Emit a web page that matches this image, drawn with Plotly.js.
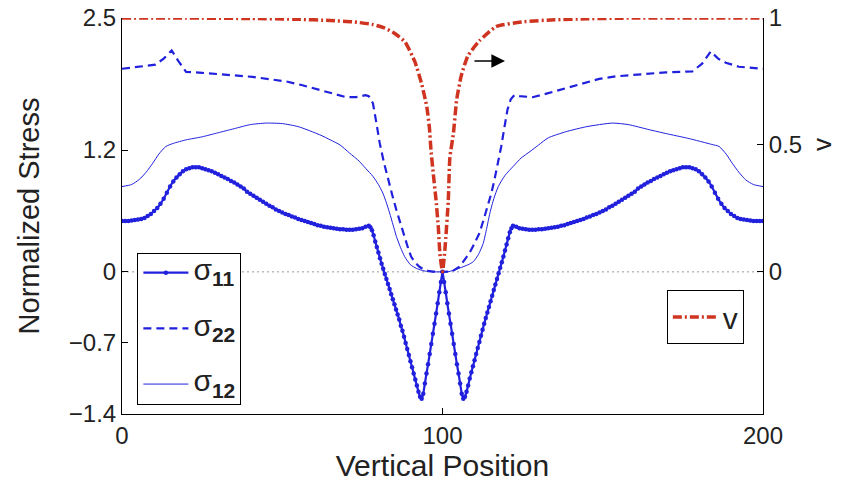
<!DOCTYPE html>
<html>
<head>
<meta charset="utf-8">
<script src="https://cdn.plot.ly/plotly-3.0.1.min.js"></script>
<style>html,body{margin:0;padding:0;background:#fff;}#chart{width:850px;height:494px;}</style>
</head>
<body>
<div id="chart"></div>
<script>
// ---- data ----
var xS11 = [0,1,2,3,4,5,6,7,8,9,10,11,12,13,14,15,16,17,18,19,20,21,22,23,24,25,26,27,28,29,30,31,32,33,34,35,36,37,38,39,40,41,42,43,44,45,46,47,48,49,50,51,52,53,54,55,56,57,58,59,60,61,62,63,64,65,66,67,68,69,70,71,72,73,74,75,76,77,
  77.5,78,78.5,79,79.5,80,80.5,81,81.5,82,82.5,83,83.5,84,84.5,85,85.5,86,86.5,87,87.5,88,88.5,89,89.5,90,90.5,91,91.5,92,92.5,93,93.5,94,94.5,95,95.5,96,96.5,97,97.5,98,98.5,99,99.5,100,
  100.5,101,101.5,102,102.5,103,103.5,104,104.5,105,105.5,106,106.5,107,107.5,108,108.5,109,109.5,110,110.5,111,111.5,112,112.5,113,113.5,114,114.5,115,115.5,116,116.5,117,117.5,118,118.5,119,119.5,120,120.5,121,121.5,122,
  123,124,125,126,127,128,129,130,131,132,133,134,135,136,137,138,139,140,141,142,143,144,145,146,147,148,149,150,151,152,153,154,155,156,157,158,159,160,161,162,163,164,165,166,167,168,169,170,171,172,173,174,175,176,177,178,179,180,181,182,183,184,185,186,187,188,189,190,191,192,193,194,195,196,197,198,199,200];
var sigma11 = [0.50,0.50,0.50,0.505,0.51,0.515,0.52,0.53,0.55,0.57,0.60,0.63,0.67,0.72,0.78,0.84,0.89,0.93,0.96,0.99,1.01,1.02,1.03,1.03,1.03,1.02,1.01,1.00,0.99,0.975,0.96,0.945,0.93,0.915,0.895,0.88,0.86,0.84,0.82,0.79,0.77,0.75,0.73,0.71,0.69,0.67,0.65,0.635,0.615,0.60,0.585,0.57,0.56,0.545,0.535,0.52,0.51,0.50,0.49,0.48,0.47,0.46,0.455,0.445,0.44,0.435,0.43,0.425,0.42,0.42,0.415,0.415,0.415,0.42,0.425,0.43,0.445,0.455,
  0.44,0.41,0.36,0.30,0.245,0.19,0.135,0.08,0.03,-0.02,-0.07,-0.12,-0.17,-0.22,-0.27,-0.32,-0.37,-0.42,-0.47,-0.53,-0.58,-0.64,-0.70,-0.76,-0.82,-0.88,-0.94,-1.00,-1.06,-1.12,-1.18,-1.23,-1.25,-1.20,-1.10,-1.00,-0.91,-0.81,-0.71,-0.61,-0.51,-0.41,-0.31,-0.20,-0.10,0,
  -0.10,-0.20,-0.31,-0.41,-0.51,-0.61,-0.71,-0.81,-0.91,-1.00,-1.10,-1.20,-1.25,-1.23,-1.18,-1.12,-1.05,-0.99,-0.93,-0.87,-0.81,-0.75,-0.69,-0.63,-0.57,-0.51,-0.455,-0.40,-0.345,-0.29,-0.235,-0.18,-0.125,-0.07,-0.015,0.04,0.095,0.15,0.21,0.27,0.33,0.39,0.43,0.455,
  0.445,0.43,0.425,0.42,0.415,0.415,0.415,0.42,0.42,0.425,0.43,0.435,0.44,0.445,0.455,0.46,0.47,0.48,0.49,0.50,0.51,0.52,0.535,0.545,0.56,0.57,0.585,0.60,0.615,0.635,0.65,0.67,0.69,0.71,0.73,0.75,0.77,0.79,0.82,0.84,0.86,0.88,0.895,0.915,0.93,0.945,0.96,0.975,0.99,1.00,1.01,1.02,1.03,1.03,1.03,1.02,1.01,0.99,0.96,0.93,0.89,0.84,0.78,0.72,0.67,0.63,0.60,0.57,0.55,0.53,0.52,0.515,0.51,0.505,0.50,0.50,0.50,0.50];

var xS22 = [0,5,10.4,13,15.5,17.5,20,25,30.5,35,40.8,46,51.3,56,61.7,66,70,73,76,77,78.3,79.3,80.4,81.7,83,84.3,85.6,86.9,88.2,89.2,90.2,91.5,92.8,94,95.5,97,100,103,105.3,107,108.4,110,111.5,112.8,114.1,115.2,116.2,117.3,118.3,119.3,120.3,121.3,122.4,124,128.1,133,138.5,144,148.9,154,159.3,164,169.7,175,178,181,183.7,186,188.4,192.5,196,200];
var sigma22 = [2.00,2.02,2.04,2.10,2.18,2.08,1.97,1.96,1.95,1.935,1.92,1.90,1.875,1.84,1.79,1.75,1.72,1.72,1.74,1.73,1.66,1.48,1.27,1.08,0.906,0.76,0.61,0.47,0.35,0.24,0.15,0.09,0.05,0.025,0.01,0.003,0,0.005,0.05,0.12,0.185,0.28,0.38,0.51,0.64,0.77,0.906,1.06,1.23,1.42,1.6,1.70,1.74,1.73,1.72,1.76,1.81,1.86,1.90,1.925,1.94,1.955,1.965,1.97,1.975,2.05,2.17,2.10,2.06,2.02,2.01,2.00];

var xS12 = [0,3,5.4,7.5,9.6,11.5,13.7,16,20,25,30,35,40,45,50,55,61.7,65,68,71,74,76,78.3,80,81.4,82.5,83.5,84.6,85.6,86.9,88.2,90,91.8,93.5,95,97,100,102,103.9,106,108,109.6,111.2,112.7,113.8,114.8,116,117.4,119.5,122.1,124.5,127.3,130,133,138.5,145,153,158,164.5,170,175.9,181,184,186.3,188.5,190.4,192.5,194.6,197,200];
var sigma12 = [0.84,0.86,0.91,0.98,1.07,1.16,1.235,1.265,1.30,1.33,1.37,1.41,1.45,1.465,1.46,1.43,1.35,1.30,1.25,1.17,1.09,1.02,0.94,0.86,0.775,0.68,0.58,0.46,0.35,0.24,0.15,0.07,0.035,0.015,0.005,0,0,0.003,0.02,0.045,0.07,0.10,0.17,0.28,0.43,0.58,0.72,0.84,0.95,1.04,1.12,1.185,1.25,1.32,1.38,1.43,1.465,1.45,1.40,1.36,1.32,1.28,1.255,1.235,1.16,1.07,0.98,0.906,0.86,0.84];

var xV = [0,20,40,55,65,72,78,82,85,88.3,91.4,93.5,95.1,95.9,96.4,97.1,98,98.7,99.2,100,100.8,101.8,102.3,103.4,104.4,105.8,107.9,111.5,116.7,125,135,145,160,180,200];
var vVals = [1.0,1.0,0.998,0.995,0.99,0.985,0.975,0.96,0.94,0.906,0.827,0.74,0.65,0.57,0.48,0.39,0.28,0.175,0.07,0,0.096,0.28,0.45,0.545,0.676,0.77,0.85,0.91,0.966,0.985,0.993,0.997,1.0,1.0,1.0];

var xZero = [0,200];
var yZero = [0,0];

var xTicks = [0,100,200];
var yTicksLeft = [-1.4,-0.7,0,1.2,2.5];
var yTicksRight = [0,0.5,1];

var labels = ['<span style="font-size:30px">σ<sub><b>11</b></sub></span>','<span style="font-size:30px">σ<sub><b>22</b></sub></span>','<span style="font-size:30px">σ<sub><b>12</b></sub></span>','v'];

// ---- styles ----
var BLUE = '#2020dd';
var RED = '#cf3420';
var TXT = '#222222';
var FONT = 'Liberation Sans, Arial, sans-serif';

var traces = [
  {x:xZero, y:yZero, mode:'lines', line:{color:'#9a9a9a', width:1, dash:'2px,3px'}, showlegend:false, hoverinfo:'skip'},
  {x:xS11, y:sigma11, name:labels[0], mode:'lines+markers', line:{color:BLUE, width:2.2, shape:'spline', smoothing:0.4}, marker:{color:BLUE, size:4.5}, legend:'legend', legendgroup:'a'},
  {x:xS22, y:sigma22, name:labels[1], mode:'lines', line:{color:BLUE, width:2.2, dash:'8px,5px'}, legend:'legend', legendgroup:'b'},
  {x:xS12, y:sigma12, name:labels[2], mode:'lines', line:{color:BLUE, width:1, shape:'spline', smoothing:0.6}, legend:'legend', legendgroup:'c'},
  {x:xV, y:vVals, name:labels[3], yaxis:'y2', mode:'lines', line:{color:RED, width:3.5, dash:'9px,3px,2px,3px', shape:'spline', smoothing:0.5}, legend:'legend2'}
];

var axisCommon = {showline:true, linecolor:'#000', linewidth:1, ticks:'inside', ticklen:6, tickcolor:'#000', showgrid:false, zeroline:false, tickfont:{family:FONT, size:24, color:TXT}};

var layout = {
  width:850, height:494,
  margin:{l:122, r:87, t:18, b:80},
  paper_bgcolor:'#fff', plot_bgcolor:'#fff',
  font:{family:FONT, color:TXT},
  xaxis:Object.assign({}, axisCommon, {range:[0,200], tickmode:'array', tickvals:xTicks, title:{text:'Vertical Position', font:{family:FONT, size:30, color:TXT}, standoff:6}}),
  yaxis:Object.assign({}, axisCommon, {range:[-1.4,2.5], tickmode:'array', tickvals:yTicksLeft, title:{text:'Normalized Stress', font:{family:FONT, size:29, color:TXT}, standoff:20}}),
  yaxis2:Object.assign({}, axisCommon, {overlaying:'y', side:'right', range:[-0.56,1], tickmode:'array', tickvals:yTicksRight}),
  legend:{x:0.024, y:0.407, xanchor:'left', yanchor:'top', bgcolor:'#fff', bordercolor:'#000', borderwidth:1, itemwidth:45, font:{family:FONT, size:19, color:TXT}, traceorder:'grouped', tracegroupgap:28},
  legend2:{x:0.85, y:0.313, xanchor:'left', yanchor:'top', bgcolor:'#fff', bordercolor:'#000', borderwidth:1, itemwidth:45, font:{family:FONT, size:30, color:TXT}},
  annotations:[
    {xref:'x', yref:'y', axref:'x', ayref:'y', x:119.5, y:2.076, ax:109.5, ay:2.076, showarrow:true, arrowhead:2, arrowsize:1.7, arrowwidth:1.6, arrowcolor:'#000', text:''},
    {xref:'paper', yref:'y2', x:1, y:0.5, xshift:76, text:'v', showarrow:false, textangle:-90, font:{family:FONT, size:26, color:TXT}}
  ],
  showlegend:true
};

Plotly.newPlot('chart', traces, layout, {displayModeBar:false, staticPlot:true});
</script>
</body>
</html>
